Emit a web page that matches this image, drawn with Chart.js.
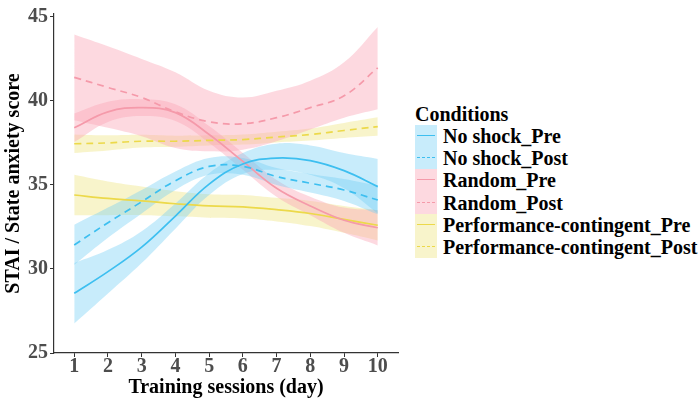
<!DOCTYPE html>
<html>
<head>
<meta charset="utf-8">
<script src="https://cdn.jsdelivr.net/npm/chart.js@4"></script>
<style>
    html, body { margin: 0; padding: 0; background: #fff; }
    #wrap { position: relative; width: 699px; height: 398px; }
    #chartBox { position: absolute; left: 0; top: 0; width: 406px; height: 398px; }
    #legend {
        position: absolute; left: 415px; top: 103px;
        font-family: "Times New Roman", "Liberation Serif", serif;
        font-weight: bold; color: #000;
    }
    #legend .title { font-size: 20px; height: 22px; line-height: 22px; }
    #legend .row { display: flex; align-items: center; height: 22.2px; }
    #legend .key { width: 22px; height: 22.2px; position: relative; flex: none; }
    #legend .key span { position: absolute; left: 2px; right: 2px; top: 10px; height: 0; border-top: 1.6px solid; }
    #legend .label { margin-left: 6px; font-size: 20px; line-height: 22px; white-space: nowrap; }
</style>
</head>
<body>
<div id="wrap">
    <div id="chartBox"><canvas id="mainChart"></canvas></div>
    <div id="legend"></div>
</div>
<script>
const days = [1, 2, 3, 4, 5, 6, 7, 8, 9, 10];
const xTicks = [1, 2, 3, 4, 5, 6, 7, 8, 9, 10];
const yTicks = [25, 30, 35, 40, 45];

const noShockPre = [28.55, 29.84, 31.3, 33.15, 35.05, 36.25, 36.6, 36.45, 35.85, 34.9];
const noShockPreHi = [30.35, 31.14, 32.25, 33.9, 35.7, 36.9, 37.45, 37.35, 36.9, 36.55];
const noShockPreLo = [26.75, 28.54, 30.35, 32.4, 34.4, 35.65, 35.9, 35.6, 34.8, 33.3];

const noShockPost = [31.43, 32.75, 34.0, 35.25, 36.1, 36.1, 35.5, 35.1, 34.7, 34.1];
const noShockPostHi = [32.63, 33.65, 34.7, 35.8, 36.6, 36.6, 36.0, 35.65, 35.35, 34.95];
const noShockPostLo = [30.23, 31.85, 33.3, 34.7, 35.6, 35.6, 35.0, 34.55, 34.05, 33.25];

const randomPre = [38.4, 39.35, 39.6, 39.3, 38.0, 36.4, 34.8, 33.75, 32.9, 32.45];
const randomPreHi = [39.25, 39.95, 40.1, 39.8, 38.5, 36.9, 35.3, 34.3, 33.65, 33.5];
const randomPreLo = [37.55, 38.75, 39.1, 38.8, 37.5, 35.9, 34.3, 33.2, 32.15, 31.4];

const randomPost = [41.4, 40.8, 40.2, 39.35, 38.76, 38.64, 39.0, 39.6, 40.3, 41.97];
const randomPostHi = [43.95, 43.25, 42.5, 41.7, 40.6, 40.2, 40.6, 41.2, 42.3, 44.4];
const randomPostLo = [38.85, 38.4, 37.9, 37.2, 37.0, 37.1, 37.6, 38.3, 39.0, 39.5];

const perfPre = [34.4, 34.2, 34.05, 33.88, 33.75, 33.7, 33.53, 33.3, 32.95, 32.6];
const perfPreHi = [35.6, 35.2, 34.9, 34.63, 34.45, 34.4, 34.23, 34.05, 33.75, 33.5];
const perfPreLo = [33.2, 33.2, 33.2, 33.13, 33.05, 33.0, 32.83, 32.55, 32.15, 31.7];

const perfPost = [37.45, 37.5, 37.6, 37.6, 37.65, 37.7, 37.85, 38.0, 38.24, 38.47];
const perfPostHi = [38.0, 37.95, 37.98, 37.93, 37.95, 38.0, 38.17, 38.36, 38.69, 39.02];
const perfPostLo = [36.9, 37.05, 37.22, 37.27, 37.35, 37.4, 37.53, 37.64, 37.79, 37.92];

const BLUE = '#3dbff0';
const PINK = '#f59aaa';
const YELLOW = '#ecd94a';
const BLUE_BAND = 'rgba(110, 205, 245, 0.38)';
const PINK_BAND = 'rgba(250, 165, 180, 0.42)';
const YELLOW_BAND = 'rgba(238, 228, 130, 0.42)';

const series = [
    { name: 'No shock_Pre', mean: noShockPre, hi: noShockPreHi, lo: noShockPreLo, color: BLUE, band: BLUE_BAND, dashed: false },
    { name: 'No shock_Post', mean: noShockPost, hi: noShockPostHi, lo: noShockPostLo, color: BLUE, band: BLUE_BAND, dashed: true },
    { name: 'Random_Pre', mean: randomPre, hi: randomPreHi, lo: randomPreLo, color: PINK, band: PINK_BAND, dashed: false },
    { name: 'Random_Post', mean: randomPost, hi: randomPostHi, lo: randomPostLo, color: PINK, band: PINK_BAND, dashed: true },
    { name: 'Performance-contingent_Pre', mean: perfPre, hi: perfPreHi, lo: perfPreLo, color: YELLOW, band: YELLOW_BAND, dashed: false },
    { name: 'Performance-contingent_Post', mean: perfPost, hi: perfPostHi, lo: perfPostLo, color: YELLOW, band: YELLOW_BAND, dashed: true }
];

const toPoints = arr => days.map((d, i) => ({ x: d, y: arr[i] }));

// bands first (lower + upper filled to it), lines after
const datasets = [];
series.forEach(s => {
    datasets.push({
        label: s.name + ' lo', data: toPoints(s.lo),
        borderWidth: 0, pointRadius: 0, fill: false, tension: 0.4, order: 10
    });
    datasets.push({
        label: s.name + ' hi', data: toPoints(s.hi),
        borderWidth: 0, pointRadius: 0, fill: '-1', backgroundColor: s.band, tension: 0.4, order: 10
    });
});
series.forEach(s => {
    datasets.push({
        label: s.name, data: toPoints(s.mean),
        borderColor: s.color, borderWidth: 1.7, borderDash: s.dashed ? [7, 5] : [],
        pointRadius: 0, fill: false, tension: 0.4, order: 1
    });
});

const tickFont = { family: '"Times New Roman", "Liberation Serif", serif', size: 20, weight: 'bold' };
const titleFont = { family: '"Times New Roman", "Liberation Serif", serif', size: 20, weight: 'bold' };

new Chart(document.getElementById('mainChart'), {
    type: 'line',
    data: { datasets: datasets },
    options: {
        responsive: true,
        maintainAspectRatio: false,
        animation: false,
        layout: { padding: { top: 7, right: 8, left: 2, bottom: 0 } },
        plugins: {
            legend: { display: false },
            tooltip: { enabled: false },
            filler: { drawTime: 'beforeDatasetsDraw' }
        },
        scales: {
            x: {
                type: 'linear', min: 0.4, max: 10.6,
                afterBuildTicks: axis => { axis.ticks = xTicks.map(v => ({ value: v })); },
                afterFit: axis => { axis.height = 45; },
                grid: { display: true, drawOnChartArea: false, drawTicks: true, tickLength: 4, color: '#333' },
                border: { display: true, color: '#333', width: 1.2 },
                ticks: { font: tickFont, color: '#4d4d4d', padding: -2, maxRotation: 0 },
                title: { display: true, text: 'Training sessions (day)', font: titleFont, color: '#000', padding: { top: 0, bottom: -2 } }
            },
            y: {
                min: 25, max: 45.17,
                afterBuildTicks: axis => { axis.ticks = yTicks.map(v => ({ value: v })); },
                afterFit: axis => { axis.width = 52; },
                grid: { display: true, drawOnChartArea: false, drawTicks: true, tickLength: 4, color: '#333' },
                border: { display: true, color: '#333', width: 1.2 },
                ticks: { font: tickFont, color: '#4d4d4d', padding: 2 },
                title: { display: true, text: 'STAI / State anxiety score', font: titleFont, color: '#000', padding: { top: 0, bottom: 0 } }
            }
        }
    }
});

// ggplot-style legend: shaded key with line sample
const legendEl = document.getElementById('legend');
legendEl.innerHTML = '<div class="title">Conditions</div>';
series.forEach(s => {
    const row = document.createElement('div');
    row.className = 'row';
    const key = document.createElement('div');
    key.className = 'key';
    key.style.background = s.band;
    const ln = document.createElement('span');
    ln.style.borderColor = s.color;
    ln.style.borderTopStyle = s.dashed ? 'dashed' : 'solid';
    key.appendChild(ln);
    const label = document.createElement('div');
    label.className = 'label';
    label.textContent = s.name;
    row.appendChild(key);
    row.appendChild(label);
    legendEl.appendChild(row);
});
</script>
</body>
</html>
